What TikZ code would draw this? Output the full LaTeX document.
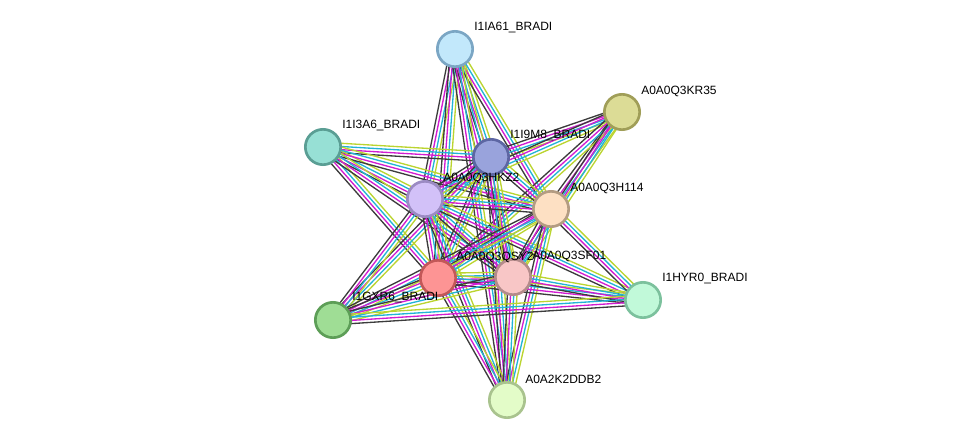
\documentclass[tikz,border=0pt]{standalone}
\usepackage{fontspec}
\setmainfont{Liberation Sans}
\usetikzlibrary{calc,backgrounds}

\definecolor{ink}{HTML}{3C3C3C}
\definecolor{exper}{HTML}{D21CD2}
\definecolor{dbase}{HTML}{22B4D6}
\definecolor{tmine}{HTML}{BBD430}

\begin{document}
\begin{tikzpicture}[x=0.75pt,y=-0.75pt,
  prot/.style={circle,line width=2pt,minimum size=26.5pt,inner sep=0pt},
  lab/.style={anchor=west,inner sep=0pt,font=\fontsize{9}{11}\selectfont},
  edge/.style={line width=1pt}]
  \useasboundingbox (0,0) rectangle (975,446);
  % proteins
  \node[prot,fill={rgb,255:red,194;green,232;blue,251},draw={rgb,255:red,123;green,166;blue,196}] (A) at (455,49) {};
  \node[prot,fill={rgb,255:red,220;green,220;blue,150},draw={rgb,255:red,160;green,158;blue,88}] (K) at (622,112) {};
  \node[prot,fill={rgb,255:red,151;green,224;blue,213},draw={rgb,255:red,90;green,158;blue,148}] (T) at (323,147) {};
  \node[prot,fill={rgb,255:red,153;green,163;blue,220},draw={rgb,255:red,93;green,102;blue,163}] (M) at (491,157) {};
  \node[prot,fill={rgb,255:red,210;green,193;blue,248},draw={rgb,255:red,155;green,139;blue,195}] (Z) at (425,199) {};
  \node[prot,fill={rgb,255:red,253;green,224;blue,195},draw={rgb,255:red,179;green,156;blue,130}] (H) at (551,209) {};
  \node[prot,fill={rgb,255:red,253;green,148;blue,148},draw={rgb,255:red,194;green,88;blue,88}] (Q) at (438,278) {};
  \node[prot,fill={rgb,255:red,248;green,198;blue,198},draw={rgb,255:red,180;green,139;blue,139}] (S) at (513,277) {};
  \node[prot,fill={rgb,255:red,193;green,249;blue,217},draw={rgb,255:red,124;green,193;blue,157}] (Y) at (643,300) {};
  \node[prot,fill={rgb,255:red,159;green,221;blue,149},draw={rgb,255:red,93;green,158;blue,87}] (G) at (333,320) {};
  \node[prot,fill={rgb,255:red,227;green,252;blue,200},draw={rgb,255:red,169;green,195;blue,142}] (D) at (507,400) {};
  % names
  \node[lab] (A-t) at ($(A)+(19,-21)$) {I1IA61\_BRADI};
  \node[lab] (K-t) at ($(K)+(19,-21)$) {A0A0Q3KR35};
  \node[lab] (T-t) at ($(T)+(19,-21)$) {I1I3A6\_BRADI};
  \node[lab] (M-t) at ($(M)+(19,-21)$) {I1I9M8\_BRADI};
  \node[lab] (Z-t) at ($(Z)+(18,-21)$) {A0A0Q3HKZ2};
  \node[lab] (H-t) at ($(H)+(19,-21)$) {A0A0Q3H114};
  \node[lab] (Q-t) at ($(Q)+(18,-21)$) {A0A0Q3QSY2};
  \node[lab] (S-t) at ($(S)+(19,-21)$) {A0A0Q3SF01};
  \node[lab] (Y-t) at ($(Y)+(19,-21)$) {I1HYR0\_BRADI};
  \node[lab] (G-t) at ($(G)+(19,-22)$) {I1GXR6\_BRADI};
  \node[lab] (D-t) at ($(D)+(18,-21)$) {A0A2K2DDB2};
  % interactions
  \begin{pgfonlayer}{background}
    \foreach \a/\b in {A/Z,A/Q,A/M,A/H,A/S,A/D,
                       K/M,K/Z,K/H,K/Q,K/S,
                       T/M,T/Z,T/H,T/Q,T/S,
                       M/Z,M/H,M/Q,M/S,M/D,M/G,
                       Z/H,Z/Q,Z/S,Z/D,Z/G,Z/Y,
                       H/Q,H/S,H/D,H/G,H/Y,
                       Q/S,Q/D,Q/G,Q/Y,
                       S/D,S/G,S/Y,G/Y}{
      \foreach \o/\c in {-3.6pt/ink,-1.2pt/exper,1.2pt/dbase,3.6pt/tmine}
        \draw[edge,\c] ($(\a.center)!\o!90:(\b.center)$) -- ($(\b.center)!\o!-90:(\a.center)$);
    }
  \end{pgfonlayer}
\end{tikzpicture}
\end{document}
